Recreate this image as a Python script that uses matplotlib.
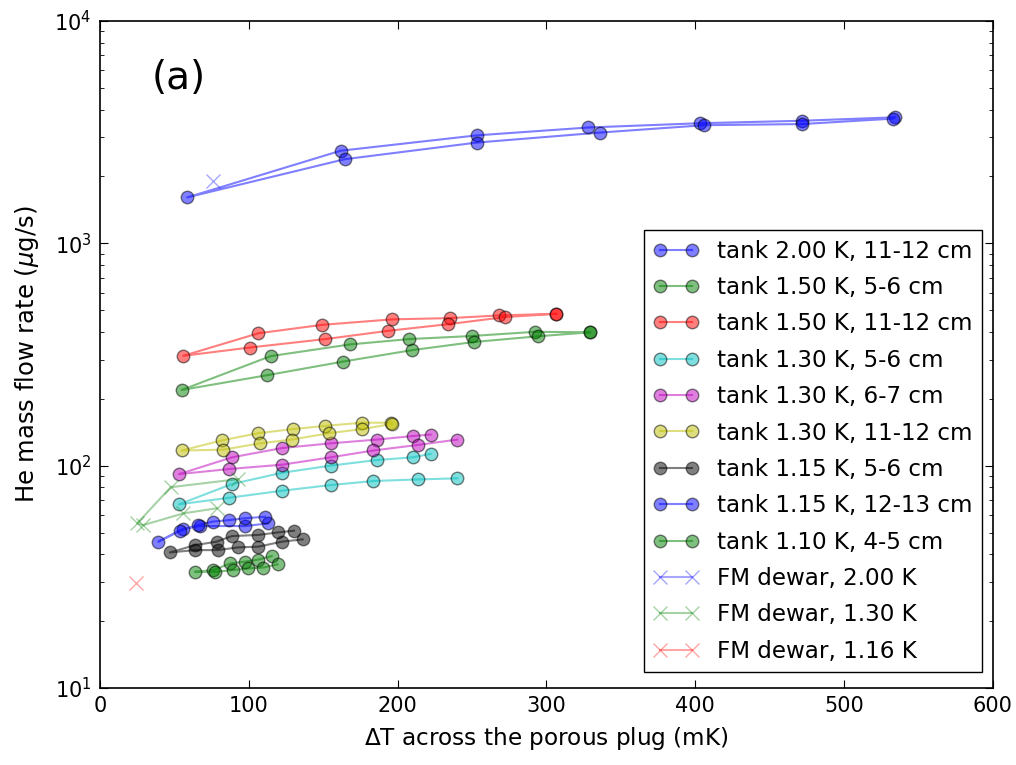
import matplotlib
matplotlib.use("Agg")
import matplotlib.pyplot as plt
from matplotlib.ticker import LogLocator

# --- data (dT in mK, flow in ug/s) ---
t200_x = [534.3, 471.8, 403.2, 328.2, 253.2, 161.7, 58.7, 164.4, 253.2, 336.0, 406.0, 471.8, 533.0]
t200_y = [3690, 3560, 3470, 3320, 3060, 2610, 1610, 2390, 2840, 3150, 3400, 3440, 3640]

t150a_x = [329.3, 292.3, 249.8, 207.7, 168.0, 114.7, 54.9, 112.0, 163.5, 209.9, 251.3, 294.6, 329.3]
t150a_y = [398, 400, 383, 371, 351, 311, 219, 255, 294, 331, 360, 382, 398]

t150b_x = [306.5, 268.1, 235.2, 196.2, 149.4, 106.4, 56.0, 100.8, 151.4, 193.5, 234.1, 272.2, 306.5]
t150b_y = [482, 474, 461, 455, 430, 394, 312, 340, 371, 404, 433, 466, 482]

t130a_x = [222.2, 210.0, 186.0, 155.0, 122.3, 88.5, 53.1, 86.7, 122.1, 155.0, 183.7, 213.9, 240.1]
t130a_y = [113, 109, 106, 100, 92.9, 82.6, 67.0, 71.7, 77.1, 81.8, 85.3, 86.7, 87.7]

t130b_x = [222.2, 210.6, 186.0, 155.0, 122.3, 88.7, 53.1, 86.9, 122.3, 155.0, 183.7, 213.9, 240.1]
t130b_y = [138, 136, 131, 126, 120, 109, 91.6, 96.6, 101, 109, 117, 124, 131]

t130c_x = [195.6, 175.9, 151.4, 129.5, 106.4, 82.2, 54.9, 82.9, 107.5, 128.8, 154.1, 175.9, 196.2]
t130c_y = [156, 156, 151, 146, 140, 130, 117, 118, 126, 131, 140, 146, 154]

t115a_x = [130.4, 119.8, 106.4, 88.5, 78.4, 63.8, 47.0, 63.8, 79.1, 92.9, 106.4, 122.1, 136.2]
t115a_y = [51.0, 50.1, 48.8, 48.2, 45.5, 43.9, 40.7, 41.7, 41.7, 42.9, 43.2, 45.5, 46.6]

t115b_x = [113.1, 97.4, 67.0, 56.0, 39.2, 53.8, 66.1, 75.7, 86.9, 97.4, 110.9]
t115b_y = [55.0, 53.5, 53.5, 52.0, 45.5, 51.0, 54.1, 56.0, 56.9, 58.0, 58.9]

t110_x = [115.4, 106.4, 97.4, 87.4, 76.2, 63.8, 77.3, 89.6, 99.7, 109.7, 119.4]
t110_y = [39.2, 37.8, 37.0, 36.3, 33.9, 33.3, 33.3, 33.9, 34.5, 34.8, 36.0]

fm200_x = [76.2]
fm200_y = [1905]

fm130_x = [93.0, 47.5, 25.0, 29.0, 56.0, 78.4]
fm130_y = [87.0, 80.0, 55.0, 54.0, 61.0, 64.3]

fm116_x = [24.0]
fm116_y = [29.7]

tank_series = [
    (t200_x, t200_y, "b", "tank 2.00 K, 11-12 cm"),
    (t150a_x, t150a_y, "g", "tank 1.50 K, 5-6 cm"),
    (t150b_x, t150b_y, "r", "tank 1.50 K, 11-12 cm"),
    (t130a_x, t130a_y, "c", "tank 1.30 K, 5-6 cm"),
    (t130b_x, t130b_y, "m", "tank 1.30 K, 6-7 cm"),
    (t130c_x, t130c_y, "y", "tank 1.30 K, 11-12 cm"),
    (t115a_x, t115a_y, "k", "tank 1.15 K, 5-6 cm"),
    (t115b_x, t115b_y, "b", "tank 1.15 K, 12-13 cm"),
    (t110_x, t110_y, "g", "tank 1.10 K, 4-5 cm"),
]
fm_series = [
    (fm200_x, fm200_y, "b", "FM dewar, 2.00 K"),
    (fm130_x, fm130_y, "g", "FM dewar, 1.30 K"),
    (fm116_x, fm116_y, "r", "FM dewar, 1.16 K"),
]

plt.rcParams.update({
    "font.family": "DejaVu Sans",
    "font.size": 15,
    "axes.linewidth": 1.2,
    "xtick.direction": "in",
    "ytick.direction": "in",
    "xtick.top": True,
    "ytick.right": True,
    "xtick.major.size": 6,
    "ytick.major.size": 6,
    "ytick.minor.size": 3,
    "xtick.major.pad": 6,
    "ytick.major.pad": 6,
})

fig = plt.figure(figsize=(10.16, 7.65), dpi=100)
ax = fig.add_axes([0.0984, 0.1007, 0.8789, 0.8718])

for x, y, c, lab in tank_series:
    ax.plot(x, y, "-o", color=c, lw=1.5, ms=9, mec="k", mew=1.0,
            alpha=0.5, label=lab)
for x, y, c, lab in fm_series:
    ax.plot(x, y, "-x", color=c, lw=1.5, ms=10, mew=1.0,
            alpha=0.35, label=lab)

ax.set_yscale("log")
ax.set_xlim(0, 600)
ax.set_ylim(10, 1e4)
ax.yaxis.set_minor_locator(LogLocator(base=10, subs=range(2, 10)))
ax.tick_params(axis="y", which="minor", left=True, right=True)

ax.set_xlabel(r"$\Delta$T across the porous plug (mK)", labelpad=6,
              fontsize=16.7)
ax.set_ylabel(r"He mass flow rate ($\mu$g/s)", labelpad=10, fontsize=17.5)
ax.text(0.058, 0.915, "(a)", transform=ax.transAxes, fontsize=28,
        ha="left", va="center")

leg = ax.legend(loc="lower right", bbox_to_anchor=(0.9877, 0.024),
                borderaxespad=0, numpoints=2, handlelength=2.0,
                handletextpad=0.78, labelspacing=0.58, fancybox=False,
                framealpha=1, edgecolor="k", fontsize=16.6)
leg.get_frame().set_linewidth(1.0)

fig.savefig("out.png", dpi=100)
